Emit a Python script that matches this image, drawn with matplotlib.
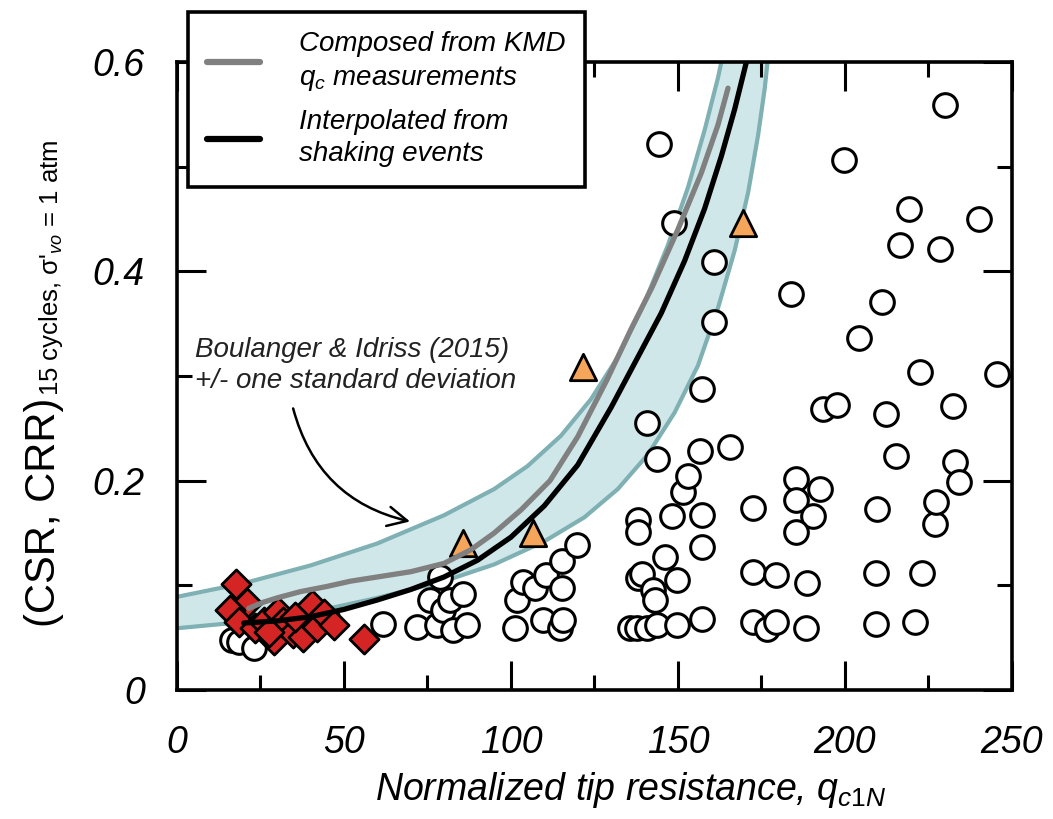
import matplotlib
matplotlib.use("Agg")
import matplotlib.pyplot as plt
from matplotlib.lines import Line2D
from matplotlib.ticker import MultipleLocator, FixedLocator, FixedFormatter

# data
# Boulanger & Idriss (2015) band, upper and lower edge
band_up_x = [0, 20, 40, 60, 80, 95, 105, 115, 124, 132, 140, 147, 153, 158, 162, 165]
band_up_y = [0.089, 0.102, 0.119, 0.140, 0.167, 0.192, 0.214, 0.243, 0.278, 0.318,
             0.370, 0.425, 0.480, 0.535, 0.585, 0.630]
band_lo_x = [0, 20, 40, 60, 80, 95, 110, 122, 132, 141, 149, 156, 162, 167, 171, 174, 176, 177.5]
band_lo_y = [0.059, 0.065, 0.074, 0.088, 0.104, 0.120, 0.142, 0.165, 0.192, 0.225,
             0.265, 0.310, 0.365, 0.420, 0.475, 0.530, 0.575, 0.620]

# composed from KMD qc measurements (grey)
kmd_x = [21.5, 26, 30, 37, 45, 52, 60, 70, 80, 88, 95, 103, 111.7, 120, 128.7, 136,
         142.3, 150, 157, 162, 165]
kmd_y = [0.078, 0.084, 0.088, 0.094, 0.099, 0.104, 0.108, 0.113, 0.121, 0.134, 0.150,
         0.172, 0.200, 0.242, 0.296, 0.345, 0.385, 0.440, 0.494, 0.540, 0.575]

# interpolated from shaking events (black)
shake_x = [20, 30, 40, 50, 60, 70, 80, 90, 100, 110, 120, 130, 138, 145, 152, 158, 163, 167, 170.5]
shake_y = [0.064, 0.066, 0.070, 0.077, 0.086, 0.096, 0.108, 0.124, 0.146, 0.176, 0.215,
           0.270, 0.318, 0.360, 0.410, 0.460, 0.510, 0.555, 0.600]

# open circles
circ_x = [16.5, 18.5, 23.0,
          61.8, 71.9, 75.8, 77.8, 78.8, 79.8, 81.8, 82.8, 85.8, 86.8,
          101.2, 101.7, 103.7, 107.2, 109.7, 110.5, 114.7, 115.2, 115.7, 115.2, 119.7,
          135.6, 137.6, 140.6, 143.6, 149.6, 157.1, 138.1, 139.1, 142.6, 143.1, 149.6,
          146.1, 138.1, 138.1, 148.1, 157.1, 157.1, 151.6, 153.1, 143.6, 156.6, 165.6,
          140.6, 157.3, 160.8, 160.8, 148.7, 144.4,
          172.6, 172.6, 172.6, 176.6, 179.5, 179.5, 188.5, 188.3, 183.8, 185.5, 192.5,
          185.5, 190.3, 185.5, 193.5, 197.5, 199.7,
          204.3, 209.7, 209.3, 209.3, 211.0, 212.3, 215.3, 216.5, 219.1, 221.0, 222.4,
          223.1, 226.9, 227.4, 228.5, 230.1, 232.4, 232.9, 234.1, 240.0, 245.4]
circ_y = [0.048, 0.046, 0.040,
          0.063, 0.060, 0.086, 0.062, 0.108, 0.076, 0.086, 0.057, 0.092, 0.062,
          0.059, 0.086, 0.103, 0.097, 0.067, 0.110, 0.059, 0.097, 0.067, 0.123, 0.139,
          0.059, 0.059, 0.059, 0.062, 0.062, 0.068, 0.107, 0.111, 0.096, 0.086, 0.105,
          0.127, 0.162, 0.151, 0.166, 0.167, 0.137, 0.189, 0.204, 0.221, 0.228, 0.232,
          0.255, 0.288, 0.352, 0.409, 0.446, 0.522,
          0.174, 0.113, 0.065, 0.058, 0.065, 0.110, 0.102, 0.059, 0.378, 0.202, 0.192,
          0.182, 0.166, 0.151, 0.268, 0.272, 0.506,
          0.336, 0.173, 0.112, 0.063, 0.371, 0.264, 0.224, 0.425, 0.460, 0.065, 0.304,
          0.112, 0.159, 0.180, 0.421, 0.559, 0.271, 0.218, 0.199, 0.450, 0.302]

# red diamonds
dia_x = [17.8, 21.0, 16.0, 18.5, 23.4, 26.0, 29.0, 30.4, 31.9, 34.9, 37.9, 40.4, 41.9,
         43.9, 46.9, 55.9, 35.5, 27.5]
dia_y = [0.101, 0.083, 0.076, 0.065, 0.059, 0.065, 0.048, 0.075, 0.065, 0.054, 0.051,
         0.081, 0.060, 0.073, 0.062, 0.049, 0.070, 0.055]

# orange triangles
tri_x = [85.7, 106.7, 121.6, 169.6]
tri_y = [0.140, 0.150, 0.309, 0.446]

x_ticks = [0, 50, 100, 150, 200, 250]
x_ticklabels = ["0", "50", "100", "150", "200", "250"]
y_ticks = [0, 0.2, 0.4, 0.6]
y_ticklabels = ["0", "0.2", "0.4", "0.6"]

plt.rcParams["font.family"] = ["Liberation Sans", "DejaVu Sans"]
plt.rcParams["mathtext.fontset"] = "custom"
plt.rcParams["mathtext.it"] = "Liberation Sans:italic"
plt.rcParams["mathtext.rm"] = "Liberation Sans"
plt.rcParams["mathtext.sf"] = "Liberation Sans"

band_edge = "#7fb0b3"
band_fill = "#d0e7ea"

fig = plt.figure(figsize=(10.53, 8.19), dpi=100)
ax = fig.add_axes([0.168, 0.1575, 0.793, 0.7668])

# band
ax.fill(band_up_x + band_lo_x[::-1], band_up_y + band_lo_y[::-1],
        color=band_fill, lw=0, zorder=1)
ax.plot(band_up_x, band_up_y, color=band_edge, lw=3, zorder=1.5)
ax.plot(band_lo_x, band_lo_y, color=band_edge, lw=3, zorder=1.5)

# markers
ax.scatter(circ_x, circ_y, s=290, facecolor="white", edgecolor="black",
           linewidths=2.2, zorder=2)
ax.scatter(tri_x, tri_y, s=360, marker="^", facecolor="#f6a65a", edgecolor="black",
           linewidths=2.0, zorder=3)
ax.scatter(dia_x, dia_y, s=220, marker="D", facecolor="#d42424", edgecolor="black",
           linewidths=2.0, zorder=3)

# curves
ax.plot(kmd_x, kmd_y, color="#808080", lw=3.8, solid_capstyle="round", zorder=4)
ax.plot(shake_x, shake_y, color="black", lw=3.8, solid_capstyle="round", zorder=4)

# annotation
ax.text(5.4, 0.337, "Boulanger & Idriss (2015)\n+/- one standard deviation",
        fontsize=20, style="italic", ha="left", va="top", linespacing=1.25, color="#222222")
ax.annotate("", xy=(69.8, 0.161), xytext=(34.8, 0.269),
            arrowprops=dict(arrowstyle="->", color="black", lw=1.8,
                            connectionstyle="arc3,rad=0.3", mutation_scale=35,
                            shrinkA=0, shrinkB=0), zorder=5)

ax.set_xlim(0, 250)
ax.set_ylim(0, 0.6)
ax.xaxis.set_major_locator(FixedLocator(x_ticks))
ax.xaxis.set_major_formatter(FixedFormatter(x_ticklabels))
ax.xaxis.set_minor_locator(MultipleLocator(25))
ax.yaxis.set_major_locator(FixedLocator(y_ticks))
ax.yaxis.set_major_formatter(FixedFormatter(y_ticklabels))
ax.yaxis.set_minor_locator(MultipleLocator(0.1))

ax.tick_params(which="both", direction="in", top=True, right=True, width=2.2)
ax.tick_params(which="major", length=21, labelsize=27)
ax.tick_params(axis="x", which="major", pad=25)
ax.tick_params(axis="y", which="major", pad=23)
ax.tick_params(which="minor", length=11)
for lab in ax.get_xticklabels() + ax.get_yticklabels():
    lab.set_fontstyle("italic")
for sp in ax.spines.values():
    sp.set_linewidth(2.6)

ax.set_xlabel(r"Normalized tip resistance, $\mathit{q_{c1N}}$", fontsize=27,
              style="italic", va="center")
ax.xaxis.set_label_coords(0.544, -0.159)

# y label: main part, then its subscript right after it
ylab = fig.text(55 / 1053, 1 - 627 / 819, "(CSR, CRR)", fontsize=30, rotation=90,
                rotation_mode="anchor", ha="left", va="baseline")
fig.canvas.draw()
bb = ylab.get_window_extent()
fig.text(58 / 1053, (bb.y1 + 2) / fig.bbox.height, r"15 cycles, σ'$_{vo}$ = 1 atm",
         fontsize=18.5, rotation=90, rotation_mode="anchor", ha="left", va="baseline")

# legend
handles = [Line2D([], [], color="#808080", lw=4.5, solid_capstyle="round"),
           Line2D([], [], color="black", lw=4.5, solid_capstyle="round")]
labels = ["Composed from KMD\n$\\mathit{q_c}$ measurements",
          "Interpolated from\nshaking events"]
leg = ax.legend(handles, labels, loc="upper left",
                bbox_to_anchor=(188 / 1053, 1 - 12 / 819), bbox_transform=fig.transFigure,
                borderaxespad=0, fancybox=False, framealpha=1, edgecolor="black",
                prop={"size": 20, "style": "italic"}, handlelength=1.9,
                handletextpad=1.4, labelspacing=0.6, borderpad=0.7)
leg.get_frame().set_linewidth(2.6)
for t in leg.get_texts():
    t.set_linespacing(1.3)
leg.set_zorder(10)

fig.savefig("out.png", dpi=100)
